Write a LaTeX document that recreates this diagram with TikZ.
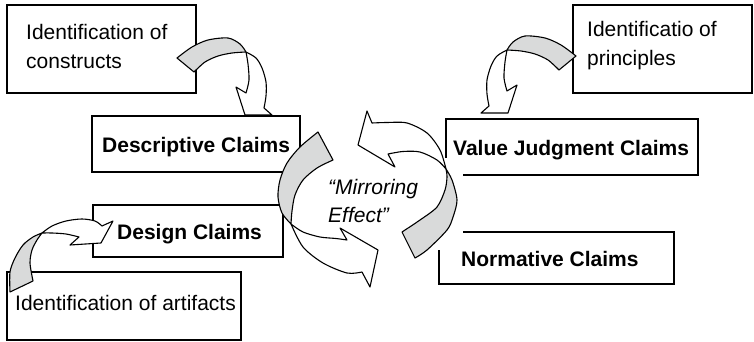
\documentclass[tikz,border=0pt]{standalone}
\usepackage{fontspec}
\setmainfont{Liberation Sans}
\definecolor{arrowgray}{RGB}{217,218,218}
\newcommand\curlarrowA{%
  \filldraw[garrow] plot[smooth] coordinates {(177,58) (192,47) (208,40) (228,38) (240,44) (246,52)}
    -- plot[smooth] coordinates {(246,52) (232,53) (218,56) (205,62) (194,72)} -- cycle;
  \filldraw[warrow] plot[smooth] coordinates {(246,52) (256,58) (262,68) (266,82) (266,96) (264,108)}
    -- (272,115) -- (245,115) -- (236,87)
    -- plot[smooth] coordinates {(246,93) (249,80) (248,64) (246,52)} -- cycle;}
\begin{document}
\begin{tikzpicture}[x=1pt,y=-1pt,
  box/.style={draw, line width=1.2pt, fill=white, inner sep=0pt},
  lbl/.style={anchor=base west, inner sep=0pt, align=left, font=\fontsize{21}{29}\selectfont},
  blbl/.style={lbl, font=\fontsize{21}{29}\selectfont\bfseries},
  ilbl/.style={lbl, font=\fontsize{21}{28}\selectfont\itshape},
  garrow/.style={draw, line width=1.1pt, fill=arrowgray, line join=round},
  warrow/.style={draw, line width=1.1pt, fill=white, line join=round}]
\useasboundingbox (0,0) rectangle (754,342);
% boxes
\node[box, minimum width=189pt, minimum height=88pt] (b1) at (101.5,49) {};
\node[box, minimum width=208pt, minimum height=56pt] (b2) at (196,144) {};
\node[box, minimum width=179pt, minimum height=88pt] (b3) at (662.5,49) {};
\node[box, minimum width=252pt, minimum height=56pt] (b4) at (572,147) {};
\node[box, minimum width=190pt, minimum height=52pt] (b5) at (188,231) {};
\node[box, minimum width=234pt, minimum height=68pt] (b6) at (124,306) {};
\node[box, minimum width=235pt, minimum height=52pt] (b7) at (556.5,258) {};
% texts (base anchor of a two-line node is the last line's baseline)
\node[lbl] (t1) at (26,69) {Identification of\\constructs};
\node[blbl] (t2) at (102,152) {Descriptive Claims};
\node[lbl] (t3) at (587,66) {Identificatio of\\principles};
\node[blbl] (t4) at (453,155) {Value Judgment Claims};
\node[blbl] (t5) at (117,239) {Design Claims};
\node[lbl] (t6) at (15,310) {Identification of artifacts};
\node[blbl] (t7) at (461,266) {Normative Claims};
% curved arrows between boxes
\curlarrowA
\begin{scope}[shift={(753,-2)}, xscale=-1]
\curlarrowA
\end{scope}
\filldraw[garrow] plot[smooth] coordinates {(10,292) (10,272) (15,258) (23,245) (33,237) (42,233)}
  -- plot[smooth] coordinates {(42,233) (37,240) (32,250) (30,263) (33,281)} -- cycle;
\filldraw[warrow] plot[smooth] coordinates {(42,233) (52,226) (66,221) (82,219) (95,221) (102,226)}
  -- (113,221) -- (101,243) -- (70,245) -- (79,237)
  -- plot[smooth] coordinates {(79,237) (66,234) (52,233) (42,233)} -- cycle;
% white ground of the centre text
\fill[white] (289,158) rectangle (463,250);
% mirroring arrows
\filldraw[garrow] plot[smooth] coordinates {(318,132) (300,147) (287,163) (280,180) (278,197) (282,213) (291,224)}
  -- plot[smooth] coordinates {(291,224) (292,211) (295,195) (303,180) (317,168) (333,160)} -- cycle;
\filldraw[warrow] plot[smooth] coordinates {(291,224) (303,232) (320,237) (336,238.5) (347,240)}
  -- (340,228) -- (378,250) -- (370,287) -- (362,272)
  -- plot[smooth] coordinates {(362,272) (347,273) (323,263) (303,247) (291,224)} -- cycle;
\filldraw[garrow] plot[smooth] coordinates {(415,258) (427,250) (447,230) (453,217) (457,200) (452,180) (446,169)}
  -- plot[smooth] coordinates {(446,169) (447,177) (445,190) (437,207) (420,220) (402,232)} -- cycle;
\filldraw[warrow] plot[smooth] coordinates {(446,169) (440,150) (427,133) (407,123) (387,122.5) (372,123)}
  -- (367,111) -- (358,145) -- (395,167) -- (388,154)
  -- plot[smooth] coordinates {(388,154) (403,151.5) (420,152) (437,160) (446,169)} -- cycle;
\node[ilbl] (mirror) at (328,222) {“Mirroring\\Effect”};
\end{tikzpicture}
\end{document}
